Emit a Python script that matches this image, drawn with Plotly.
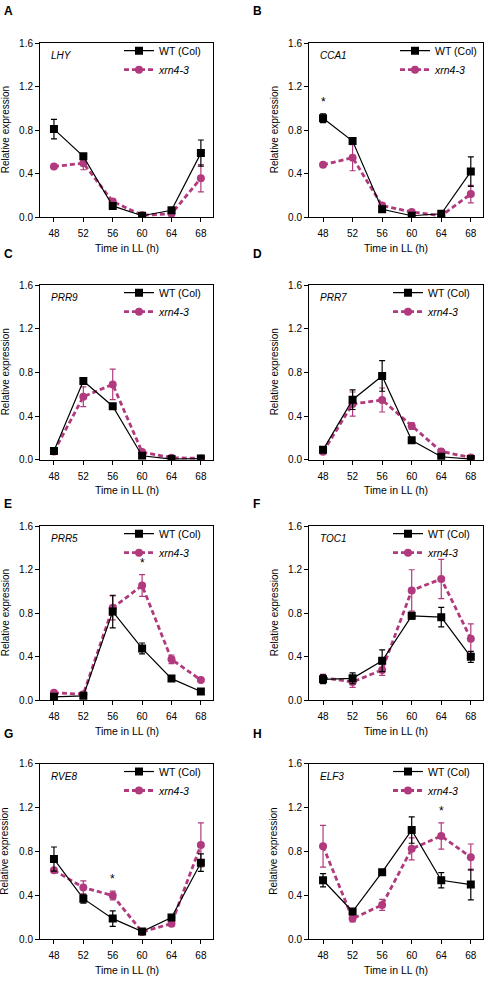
import plotly.graph_objects as go

W, H = 487, 983
MAG = "#b03a7d"
FONT = "Liberation Sans, Arial, sans-serif"

times = [48, 52, 56, 60, 64, 68]
genes = ["LHY", "CCA1", "PRR9", "PRR7", "PRR5", "TOC1", "RVE8", "ELF3"]
letters = ["A", "B", "C", "D", "E", "F", "G", "H"]

# WT (Col) means and SEM
wt_lhy = [0.81, 0.56, 0.105, 0.015, 0.065, 0.59]
wt_lhy_err = [0.09, 0.02, 0.01, 0.005, 0.01, 0.12]
wt_cca1 = [0.91, 0.70, 0.075, 0.015, 0.033, 0.42]
wt_cca1_err = [0.04, 0.02, 0.01, 0.005, 0.01, 0.135]
wt_prr9 = [0.08, 0.72, 0.49, 0.036, 0.006, 0.01]
wt_prr9_err = [0.01, 0.02, 0.02, 0.01, 0.003, 0.003]
wt_prr7 = [0.09, 0.55, 0.767, 0.178, 0.027, 0.006]
wt_prr7_err = [0.01, 0.09, 0.14, 0.02, 0.005, 0.003]
wt_prr5 = [0.033, 0.042, 0.815, 0.477, 0.20, 0.082]
wt_prr5_err = [0.005, 0.005, 0.15, 0.05, 0.015, 0.01]
wt_toc1 = [0.194, 0.203, 0.364, 0.776, 0.764, 0.40]
wt_toc1_err = [0.04, 0.05, 0.10, 0.03, 0.09, 0.05]
wt_rve8 = [0.733, 0.372, 0.19, 0.072, 0.20, 0.70]
wt_rve8_err = [0.11, 0.04, 0.07, 0.01, 0.02, 0.08]
wt_elf3 = [0.54, 0.255, 0.613, 0.997, 0.54, 0.50]
wt_elf3_err = [0.06, 0.02, 0.02, 0.12, 0.07, 0.14]

# xrn4-3 means and SEM
xrn_lhy = [0.467, 0.497, 0.145, 0.02, 0.033, 0.36]
xrn_lhy_err = [0.01, 0.06, 0.02, 0.01, 0.01, 0.125]
xrn_cca1 = [0.482, 0.548, 0.108, 0.05, 0.015, 0.214]
xrn_cca1_err = [0.01, 0.12, 0.02, 0.01, 0.005, 0.08]
xrn_prr9 = [0.075, 0.577, 0.69, 0.07, 0.018, 0.012]
xrn_prr9_err = [0.01, 0.09, 0.14, 0.01, 0.005, 0.005]
xrn_prr7 = [0.072, 0.51, 0.547, 0.308, 0.075, 0.02]
xrn_prr7_err = [0.01, 0.11, 0.11, 0.03, 0.01, 0.005]
xrn_prr5 = [0.07, 0.057, 0.85, 1.054, 0.377, 0.187]
xrn_prr5_err = [0.01, 0.01, 0.11, 0.10, 0.04, 0.01]
xrn_toc1 = [0.209, 0.17, 0.28, 1.009, 1.115, 0.567]
xrn_toc1_err = [0.03, 0.05, 0.05, 0.19, 0.18, 0.135]
xrn_rve8 = [0.63, 0.474, 0.40, 0.069, 0.144, 0.862]
xrn_rve8_err = [0.02, 0.06, 0.04, 0.01, 0.02, 0.20]
xrn_elf3 = [0.85, 0.19, 0.315, 0.826, 0.943, 0.75]
xrn_elf3_err = [0.19, 0.03, 0.05, 0.10, 0.12, 0.12]

wt_all = [wt_lhy, wt_cca1, wt_prr9, wt_prr7, wt_prr5, wt_toc1, wt_rve8, wt_elf3]
wt_err_all = [wt_lhy_err, wt_cca1_err, wt_prr9_err, wt_prr7_err,
              wt_prr5_err, wt_toc1_err, wt_rve8_err, wt_elf3_err]
xrn_all = [xrn_lhy, xrn_cca1, xrn_prr9, xrn_prr7, xrn_prr5, xrn_toc1, xrn_rve8, xrn_elf3]
xrn_err_all = [xrn_lhy_err, xrn_cca1_err, xrn_prr9_err, xrn_prr7_err,
               xrn_prr5_err, xrn_toc1_err, xrn_rve8_err, xrn_elf3_err]

# significance stars: (panel, time, series)
stars = [("CCA1", 48, "wt"), ("PRR5", 60, "xrn"), ("RVE8", 56, "xrn"), ("ELF3", 64, "xrn")]

y_ticks = [0.0, 0.4, 0.8, 1.2, 1.6]

# panel geometry in pixels
col_left = [40, 309]
col_right = [213, 483]
row_top = [37.5, 282.5, 526.5, 767.3]
row_bottom = [214, 459.3, 703, 945]
letter_y = [5, 251, 504, 737]
legend_dx = [82, 89, 82, 82, 82, 82, 82, 82]


def px(x):
    return x / W


def py(y):
    return 1 - y / H


fig = go.Figure()
annotations = []
layout = {}

for i, gene in enumerate(genes):
    r, c = divmod(i, 2)
    n = "" if i == 0 else str(i + 1)
    xa, ya = "x" + n, "y" + n
    leg = "legend" + n
    x0, x1 = col_left[c], col_right[c]
    y0, y1 = row_top[r], row_bottom[r]

    fig.add_trace(go.Scatter(
        x=times, y=xrn_all[i], name="<i>xrn4-3</i>", mode="lines+markers",
        line=dict(color=MAG, width=2.8, dash="5px,3px"),
        marker=dict(symbol="circle", size=8, color=MAG),
        error_y=dict(type="data", array=xrn_err_all[i], color=MAG, thickness=1.2, width=3),
        xaxis=xa, yaxis=ya, legend=leg, legendrank=2))
    fig.add_trace(go.Scatter(
        x=times, y=wt_all[i], name="WT (Col)", mode="lines+markers",
        line=dict(color="black", width=1.2),
        marker=dict(symbol="square", size=8, color="black"),
        error_y=dict(type="data", array=wt_err_all[i], color="black", thickness=1.2, width=3),
        xaxis=xa, yaxis=ya, legend=leg, legendrank=1))

    layout["xaxis" + n] = dict(
        domain=[px(x0), px(x1)], anchor=ya, range=[46.1, 69.65],
        tickvals=times, ticks="outside", ticklen=4, tickcolor="black",
        showline=True, linecolor="black", linewidth=1, mirror=True,
        showgrid=False, zeroline=False, ticklabelstandoff=3,
        tickfont=dict(family=FONT, size=10, color="black"))
    layout["yaxis" + n] = dict(
        domain=[py(y1), py(y0)], anchor=xa, range=[0, 1.6],
        tickvals=y_ticks, tickformat=".1f", ticks="outside", ticklen=4, tickcolor="black",
        showline=True, linecolor="black", linewidth=1, mirror=True,
        showgrid=False, zeroline=False,
        tickfont=dict(family=FONT, size=10, color="black"))
    layout[leg] = dict(
        x=px(x0 + legend_dx[i] - 3), y=py(y0 - 7), xanchor="left", yanchor="top",
        bgcolor="rgba(0,0,0,0)", itemwidth=30, tracegroupgap=0,
        font=dict(family=FONT, size=10.5, color="black"))

    annotations.append(dict(
        text="<i>" + gene + "</i>", x=px(x0 + 9), y=py(y0 + 13), xref="paper", yref="paper",
        xanchor="left", yanchor="middle", showarrow=False,
        font=dict(family=FONT, size=10, color="black")))
    annotations.append(dict(
        text="<b>" + letters[i] + "</b>", x=px(2 if c == 0 else 251), y=py(letter_y[r]),
        xref="paper", yref="paper", xanchor="left", yanchor="middle", showarrow=False,
        font=dict(family=FONT, size=12, color="black")))
    annotations.append(dict(
        text="Relative expression", x=px(x0 - 35), y=py((y0 + y1) / 2), textangle=-90,
        xref="paper", yref="paper", xanchor="center", yanchor="middle", showarrow=False,
        font=dict(family=FONT, size=10, color="black")))
    annotations.append(dict(
        text="Time in LL (h)", x=px((x0 + x1) / 2), y=py(y1 + 31), xref="paper", yref="paper",
        xanchor="center", yanchor="middle", showarrow=False,
        font=dict(family=FONT, size=10.5, color="black")))

for gene, t, series in stars:
    i = genes.index(gene)
    k = times.index(t)
    if series == "wt":
        top = wt_all[i][k] + wt_err_all[i][k]
    else:
        top = xrn_all[i][k] + xrn_err_all[i][k]
    n = "" if i == 0 else str(i + 1)
    annotations.append(dict(
        text="*", x=t, y=top, xref="x" + n, yref="y" + n, yshift=12,
        xanchor="center", yanchor="middle", showarrow=False,
        font=dict(family=FONT, size=12, color="black")))

fig.update_layout(
    width=W, height=H, margin=dict(l=0, r=0, t=0, b=0),
    paper_bgcolor="white", plot_bgcolor="white",
    font=dict(family=FONT, color="black"),
    annotations=annotations, **layout)

# drop the default body margin so the figure fills the window exactly
fig.write_html("out.html", config={"displayModeBar": False},
               post_script="document.body.style.margin = '0';")
